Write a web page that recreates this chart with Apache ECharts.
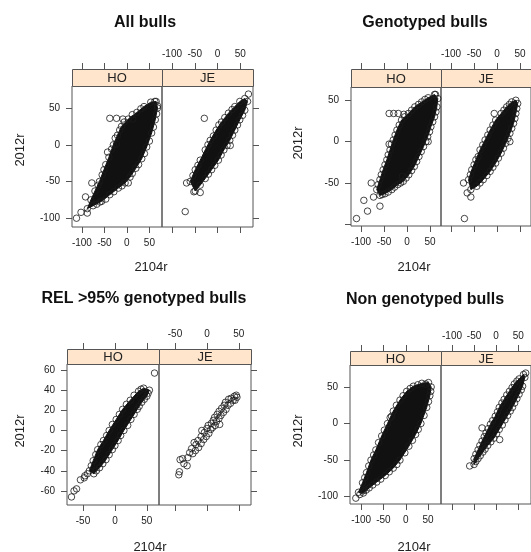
<!DOCTYPE html>
<html><head><meta charset="utf-8">
<script src="https://cdn.jsdelivr.net/npm/echarts@6/dist/echarts.min.js"></script>
<style>html,body{margin:0;padding:0;background:#fff}#c{width:531px;height:552px}</style>
</head><body><div id="c"></div>
<script>
// ---------- data ----------
const panelTitles = ['All bulls', 'Genotyped bulls', 'REL >95% genotyped bulls', 'Non genotyped bulls'];
const breeds = ['HO', 'JE'];
const xAxisTitle = '2104r';
const yAxisTitle = '2012r';
const xTickValues = [[-100, -50, 0, 50], [-100, -50, 0, 50], [-50, 0, 50], [-100, -50, 0, 50]];
const yTickValues = [[-100, -50, 0, 50], [-100, -50, 0, 50], [-60, -40, -20, 0, 20, 40, 60], [-100, -50, 0, 50]];
const yLabelValues = [[-100, -50, 0, 50], [-50, 0, 50], [-60, -40, -20, 0, 20, 40, 60], [-100, -50, 0, 50]];

// dense cores (outline of the solid black cloud) and separate points, [2104r, 2012r]
const allHOcore = [[-88,-87],[-80,-75],[-71,-63],[-61,-50],[-51,-34],[-40,-17],[-30,0],[-21,13],[-12,25],[3,35],[22,44],[38,52],[53,58],[65,59],[68,50],[63,34],[55,16],[44,-3],[33,-19],[20,-32],[7,-44],[-4,-52],[-19,-59],[-38,-68],[-56,-77],[-75,-83]];
const allHOout = [[-112,-100],[-102,-92],[-88,-93],[-92,-71],[-78,-52],[-60,-78],[-38,36],[-23,36],[-9,35],[13,35],[-23,1],[3,-52],[62,59],[68,53],
  [-64,-55],[-55,-41],[-47,-27],[-43,-10],[-34,-6],[-26,9],[-16,20],[-6,31],[12,41],[31,49],[66,42],[59,24],[50,5],[39,-12],[26,-27],[12,-39],[-11,-56],[-29,-64],[-47,-74],[-67,-81]];
const allJEcore = [[-60,-50],[-49,-34],[-38,-21],[-27,-7],[-16,6],[-3,20],[9,31],[24,43],[38,52],[49,59],[60,63],[66,59],[60,47],[49,34],[38,20],[27,6],[14,-7],[2,-21],[-13,-34],[-27,-46],[-38,-55],[-49,-63]];
const allJEout = [[-71,-91],[-29,36],[-68,-52],[-52,-64],[-38,-65],[28,-1],[68,69],
  [-54,-42],[-43,-28],[-21,0],[-9,12],[3,27],[16,37],[32,48],[55,40],[44,27],[33,13],[21,-1],[8,-14],[-6,-28],[-20,-40]];

const genHOcore = [[-66,-58],[-59,-46],[-52,-34],[-44,-22],[-37,-10],[-30,2],[-22,14],[-12,26],[3,34],[17,42],[32,48],[46,53],[60,57],[67,52],[65,42],[60,30],[52,18],[45,6],[36,-6],[26,-18],[16,-30],[4,-40],[-8,-48],[-20,-52],[-33,-58],[-48,-63],[-59,-65]];
const genHOout = [[-110,-93],[-94,-71],[-86,-84],[-78,-50],[-59,-78],[-73,-67],[-39,34],[-29,34],[-19,34],[-7,33],[-39,-3],[-10,-42],[46,0],[62,57],
  [-63,-52],[-56,-40],[-48,-28],[-41,-16],[-34,-3],[-26,8],[-17,20],[-5,30],[10,38],[25,45],[39,51],[63,36],[56,24],[49,12],[41,0],[31,-12],[21,-24],[10,-35],[-2,-44],[-14,-50],[-27,-55],[-41,-61],[-54,-64]];
const genJEcore = [[-62,-46],[-55,-34],[-46,-22],[-37,-10],[-26,2],[-15,14],[-3,26],[9,34],[21,42],[32,48],[41,50],[45,46],[41,34],[36,22],[28,10],[19,-2],[9,-14],[-3,-26],[-15,-36],[-30,-46],[-44,-54],[-57,-58]];
const genJEout = [[-71,-93],[-73,-50],[-65,-62],[-57,-67],[-6,34],[28,0],[-41,-18],
  [-58,-40],[-50,-28],[-31,-4],[-20,8],[-9,20],[15,38],[27,45],[43,40],[39,28],[32,16],[24,4],[14,-8],[3,-20],[-9,-31],[-22,-41],[-37,-50]];

const relHOcore = [[-40,-40],[-34,-30],[-27,-19],[-18,-10],[-9,0],[2,11],[12,21],[24,30],[37,39],[45,42],[54,40],[50,34],[42,28],[35,21],[25,11],[14,0],[5,-10],[-4,-19],[-14,-29],[-24,-37],[-33,-43]];
const relHOout = [[-68,-66],[-64,-60],[-60,-58],[-54,-49],[-47,-45],[-43,-43],[-48,-47],[62,57],
  [-37,-35],[-30,-24],[-22,-14],[-13,-5],[-4,6],[7,16],[18,26],[30,35],[41,41],[52,37],[46,31],[38,24],[30,16],[20,5],[9,-5],[0,-15],[-9,-24],[-19,-33],[-29,-40]];
const relJEout = [[-44,-44],[-43,-41],[-42,-29],[-38,-28],[-36,-33],[-31,-35],[-30,-27],[-27,-22],[-22,-23],[-24,-18],[-18,-20],[-17,-14],[-13,-17],[-14,-10],[-9,-13],[-9,-6],[-5,-9],[-4,-2],[-1,-6],[0,2],[3,-3],[2,5],[6,1],[7,7],[9,3],[10,10],[13,5],[12,13],[15,9],[16,16],[19,12],[19,19],[22,15],[23,22],[26,18],[27,25],[30,21],[29,28],[33,25],[34,31],[37,27],[38,32],[41,30],[43,34],[46,35],[47,33],[44,30],[-8,0],[20,6],[-20,-12]];

const nonHOcore = [[-106,-94],[-97,-81],[-88,-67],[-78,-50],[-67,-36],[-54,-17],[-41,0],[-28,17],[-13,32],[2,44],[17,51],[36,55],[51,56],[57,50],[54,38],[47,22],[34,0],[22,-15],[7,-31],[-13,-50],[-28,-61],[-46,-71],[-65,-80],[-82,-88],[-95,-95]];
const nonHOout = [[-112,-102],[-103,-97],[-96,-92],[-32,10],[45,54],
  [-92,-74],[-83,-58],[-72,-43],[-61,-26],[-48,-9],[-35,8],[-21,25],[-6,38],[10,48],[27,53],[56,44],[51,30],[41,11],[28,-8],[15,-23],[-2,-40],[-20,-56],[-37,-66],[-56,-76],[-74,-84],[-89,-91]];
const nonJEcore = [[-50,-48],[-41,-36],[-32,-24],[-23,-13],[-13,-1],[-2,10],[7,22],[18,33],[30,44],[41,54],[52,61],[62,67],[65,63],[60,51],[52,40],[42,28],[32,17],[20,5],[7,-8],[-5,-20],[-19,-30],[-30,-39],[-41,-48],[-50,-56]];
const nonJEout = [[-60,-58],[67,69],[-32,-6],[8,-22],
  [-46,-42],[-37,-30],[-27,-18],[-18,-7],[-8,4],[3,16],[13,28],[24,39],[36,49],[47,58],[57,46],[47,34],[37,22],[26,11],[14,-2],[1,-14],[-12,-25],[-25,-35],[-36,-44],[-46,-52]];

const cores = [[allHOcore, allJEcore], [genHOcore, genJEcore], [relHOcore, null], [nonHOcore, nonJEcore]];
const points = [[allHOout, allJEout], [genHOout, genJEout], [relHOout, relJEout], [nonHOout, nonJEout]];

// ---------- layout ----------
const layout = [
  {xr:[-122,78], yr:[-112,80], strip:69, top:86, h:141, lefts:[72,162], widths:[90,91], title:[145,23], xlab:[151,267], ylab:[20,150]},
  {xr:[-122,74], yr:[-102,66], strip:69, top:87, h:139, lefts:[351,441], widths:[90,90], title:[425,23], xlab:[414,267], ylab:[298,143]},
  {xr:[-75,69],  yr:[-74,66],  strip:349, top:364, h:141, lefts:[67,159], widths:[92,92], title:[144,299], xlab:[150,547], ylab:[20,431]},
  {xr:[-125,79], yr:[-110,80], strip:351, top:365, h:139, lefts:[350,441], widths:[91,90], title:[425,300], xlab:[414,547], ylab:[298,431]}
];

const txt = '#222', tickCol = '#555', boxCol = '#555';
const grids = [], xAxes = [], yAxes = [], series = [], graphics = [];

layout.forEach((L, p) => {
  [0, 1].forEach(b => {
    const gi = grids.length;
    grids.push({left: L.lefts[b], top: L.top, width: L.widths[b], height: L.h,
      show: true, borderColor: boxCol, borderWidth: 1, backgroundColor: 'transparent',
      containLabel: false, outerBoundsMode: 'none'});
    const common = {gridIndex: gi, type: 'value', min: L.xr[0], max: L.xr[1], splitLine: {show: false}, axisLine: {show: false, onZero: false}};
    xAxes.push(Object.assign({}, common, {position: 'bottom',
      axisTick: {show: true, length: 6, customValues: xTickValues[p], lineStyle: {color: tickCol}},
      axisLabel: {show: b === 0, customValues: xTickValues[p], fontSize: 10, color: txt, margin: 11, fontFamily: 'Liberation Sans'}}));
    xAxes.push(Object.assign({}, common, {position: 'top', offset: L.top - L.strip,
      axisTick: {show: true, length: 6, customValues: xTickValues[p], lineStyle: {color: tickCol}},
      axisLabel: {show: b === 1, customValues: xTickValues[p], fontSize: 10, color: txt, margin: 10, fontFamily: 'Liberation Sans'}}));
    yAxes.push({gridIndex: gi, type: 'value', min: L.yr[0], max: L.yr[1], position: b === 0 ? 'left' : 'right',
      splitLine: {show: false}, axisLine: {show: false, onZero: false},
      axisTick: {show: true, length: 6, customValues: yTickValues[p], lineStyle: {color: tickCol}},
      axisLabel: {show: b === 0, customValues: yLabelValues[p], fontSize: 10, color: txt, margin: 12, fontFamily: 'Liberation Sans'}});
    const xi = gi * 2, yi = gi;
    const core = cores[p][b];
    if (core) {
      series.push({type: 'custom', xAxisIndex: xi, yAxisIndex: yi, data: core, silent: true, z: 2,
        renderItem: (params, api) => {
          if (params.dataIndex !== 0) return null;
          const pts = core.map(d => api.coord(d));
          return {type: 'polygon', shape: {points: pts}, style: {fill: '#111', stroke: '#111', lineWidth: 1}};
        }});
    }
    series.push({type: 'scatter', xAxisIndex: xi, yAxisIndex: yi, z: 3, silent: true,
      data: (core || []).concat(points[p][b]), symbol: 'circle', symbolSize: 6.5,
      itemStyle: {color: 'rgba(0,0,0,0)', borderColor: '#1a1a1a', borderWidth: 1}});
    // strip
    graphics.push({type: 'rect', shape: {x: L.lefts[b] + 0.5, y: L.strip + 0.5, width: L.widths[b], height: L.top - L.strip},
      style: {fill: '#ffe5cc', stroke: boxCol, lineWidth: 1}, z: 1});
    graphics.push({type: 'text', x: L.lefts[b] + L.widths[b] / 2, y: (L.strip + L.top) / 2 + 1, z: 2,
      style: {text: breeds[b], fill: txt, font: '13px "Liberation Sans"', textAlign: 'center', textVerticalAlign: 'middle', align: 'center', verticalAlign: 'middle'}});
  });
  graphics.push({type: 'text', x: L.title[0], y: L.title[1],
    style: {text: panelTitles[p], fill: '#111', font: 'bold 16px "Liberation Sans"', textAlign: 'center', textVerticalAlign: 'middle', align: 'center', verticalAlign: 'middle'}});
  graphics.push({type: 'text', x: L.xlab[0], y: L.xlab[1],
    style: {text: xAxisTitle, fill: txt, font: '13px "Liberation Sans"', textAlign: 'center', textVerticalAlign: 'middle', align: 'center', verticalAlign: 'middle'}});
  graphics.push({type: 'text', x: L.ylab[0], y: L.ylab[1], rotation: Math.PI / 2,
    style: {text: yAxisTitle, fill: txt, font: '13px "Liberation Sans"', textAlign: 'center', textVerticalAlign: 'middle', align: 'center', verticalAlign: 'middle'}});
});

const chart = echarts.init(document.getElementById('c'), null, {renderer: 'canvas'});
chart.setOption({animation: false, backgroundColor: '#fff', grid: grids, xAxis: xAxes, yAxis: yAxes, series: series, graphic: {elements: graphics}});
</script></body></html>
